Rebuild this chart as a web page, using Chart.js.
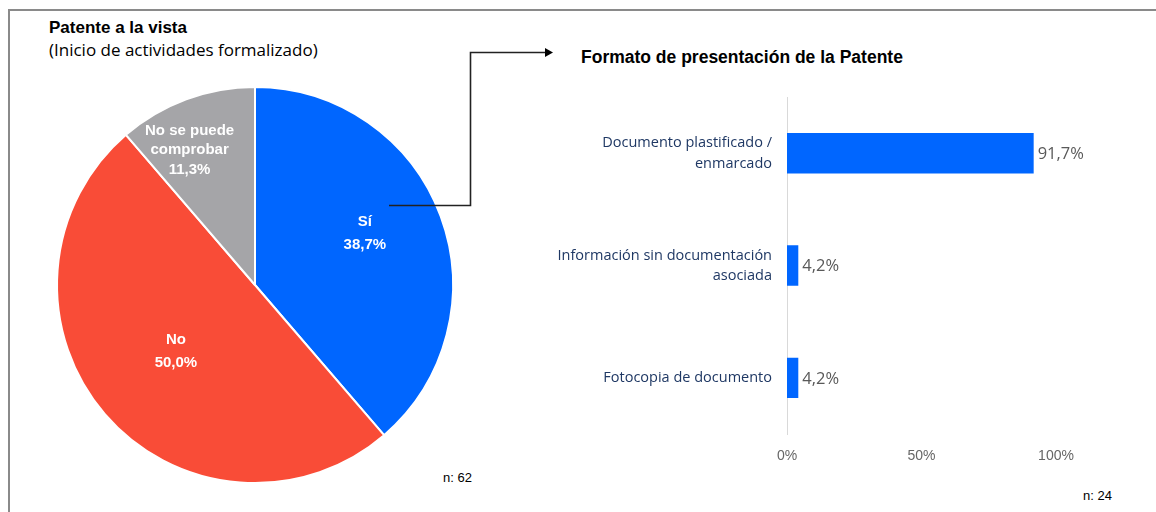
<!DOCTYPE html>
<html><head><meta charset="utf-8">
<script src="https://cdn.jsdelivr.net/npm/chart.js@4.4.1/dist/chart.umd.min.js"></script>
<style>
body{margin:0;width:1156px;height:512px;position:relative;overflow:hidden;background:#fff;font-family:"Liberation Sans",Arial,sans-serif;}
.abs{position:absolute;white-space:nowrap;color:#000;}
#frame{position:absolute;left:8px;top:9px;width:1170px;height:530px;border-top:2px solid #8a8a8a;border-left:2px solid #8a8a8a;}
canvas{position:absolute;}
</style></head><body>
<div id="frame"></div>
<div class="abs" style="left:49px;top:18px;font-weight:bold;font-size:17px;">Patente a la vista</div>
<div class="abs" style="left:49px;top:38px;font-size:17px;font-family:'Open Sans',sans-serif;">(Inicio de actividades formalizado)</div>
<div class="abs" style="left:581px;top:47px;font-weight:bold;font-size:17.5px;">Formato de presentación de la Patente</div>
<div class="abs" style="left:443px;top:470px;font-size:13px;">n: 62</div>
<div class="abs" style="left:1083px;top:488px;font-size:13px;">n: 24</div>
<svg style="position:absolute;left:0;top:0;z-index:5" width="1156" height="512">
  <polyline points="389,205.5 470.5,205.5 470.5,52.5 546,52.5" fill="none" stroke="#222" stroke-width="1.6"/>
  <polygon points="545,48 553,52.5 545,57" fill="#000"/>
</svg>
<canvas id="pie" width="420" height="420" style="left:45px;top:75px;"></canvas>
<canvas id="bar" width="600" height="402" style="left:540px;top:72px;"></canvas>
<script>
// ---- data ----
const pieLabels = ["Sí", "No", "No se puede comprobar"];
const pieLabelLines = [["Sí"], ["No"], ["No se puede", "comprobar"]];
const pieValues = [38.7, 50.0, 11.3];
const pieColors = ["#0066FF", "#F94C37", "#A5A5A8"];

const barCategories = [["Documento plastificado /", "enmarcado"], ["Información sin documentación", "asociada"], ["Fotocopia de documento"]];
const barValues = [91.7, 4.2, 4.2];
const xTickValues = [0, 50, 100];

const fmt = v => v.toFixed(1).replace('.', ',') + '%';

// label offsets relative to each slice's centre point (style only)
const pieLabelOffsets = [[17, -17], [-4, 2], [-31, -42]];

const pieLabelPlugin = {
  id: 'pieLabels',
  afterDatasetsDraw(chart) {
    const ctx = chart.ctx;
    const meta = chart.getDatasetMeta(0);
    ctx.save();
    ctx.fillStyle = '#fff';
    ctx.font = 'bold 15px "Liberation Sans", Arial, sans-serif';
    ctx.textAlign = 'center';
    ctx.textBaseline = 'middle';
    meta.data.forEach((arc, i) => {
      const p = arc.tooltipPosition();
      const lines = pieLabelLines[i].concat([fmt(pieValues[i])]);
      const lh = i === 2 ? 19.5 : 23;
      const cx = p.x + pieLabelOffsets[i][0];
      const cy = p.y + pieLabelOffsets[i][1];
      const start = cy - (lines.length - 1) * lh / 2;
      lines.forEach((t, k) => ctx.fillText(t, cx, start + k * lh));
    });
    ctx.restore();
  }
};

new Chart(document.getElementById('pie'), {
  type: 'pie',
  data: { labels: pieLabels, datasets: [{ data: pieValues, backgroundColor: pieColors, borderColor: '#fff', borderWidth: 2, hoverOffset: 0 }] },
  options: {
    responsive: false, animation: false, devicePixelRatio: 1,
    radius: 198,
    layout: { padding: 0 },
    plugins: { legend: { display: false }, tooltip: { enabled: false } }
  },
  plugins: [pieLabelPlugin]
});

const barLabelPlugin = {
  id: 'barLabels',
  afterDatasetsDraw(chart) {
    const ctx = chart.ctx;
    const meta = chart.getDatasetMeta(0);
    ctx.save();
    ctx.fillStyle = '#595959';
    ctx.font = '16.5px "Open Sans", sans-serif';
    ctx.textAlign = 'left';
    ctx.textBaseline = 'middle';
    meta.data.forEach((bar, i) => ctx.fillText(fmt(barValues[i]), bar.x + 4, bar.y + 1));
    ctx.restore();
  }
};

new Chart(document.getElementById('bar'), {
  type: 'bar',
  data: { labels: barCategories, datasets: [{ data: barValues, backgroundColor: '#0066FF', barPercentage: 0.36, categoryPercentage: 1 }] },
  options: {
    indexAxis: 'y',
    responsive: false, animation: false, devicePixelRatio: 1,
    layout: { padding: { top: 9, right: 84, left: 0, bottom: 0 } },
    plugins: { legend: { display: false }, tooltip: { enabled: false } },
    scales: {
      x: {
        min: 0, max: 100,
        afterBuildTicks: s => { s.ticks = xTickValues.map(v => ({ value: v })); },
        afterFit: s => { s.height = 40; },
        grid: { display: false, drawTicks: false },
        border: { display: false },
        ticks: { color: '#666', font: { size: 14, family: '"Liberation Sans", Arial, sans-serif' }, padding: 14, callback: v => v + '%' }
      },
      y: {
        afterFit: s => { s.width = 247; },
        grid: { display: false, drawTicks: false },
        border: { display: true, color: '#d9d9d9', width: 1 },
        ticks: { color: '#1F3864', font: { size: 14.5, family: '"Open Sans", sans-serif', lineHeight: 1.4 }, padding: 15 }
      }
    }
  },
  plugins: [barLabelPlugin]
});
</script>
</body></html>
